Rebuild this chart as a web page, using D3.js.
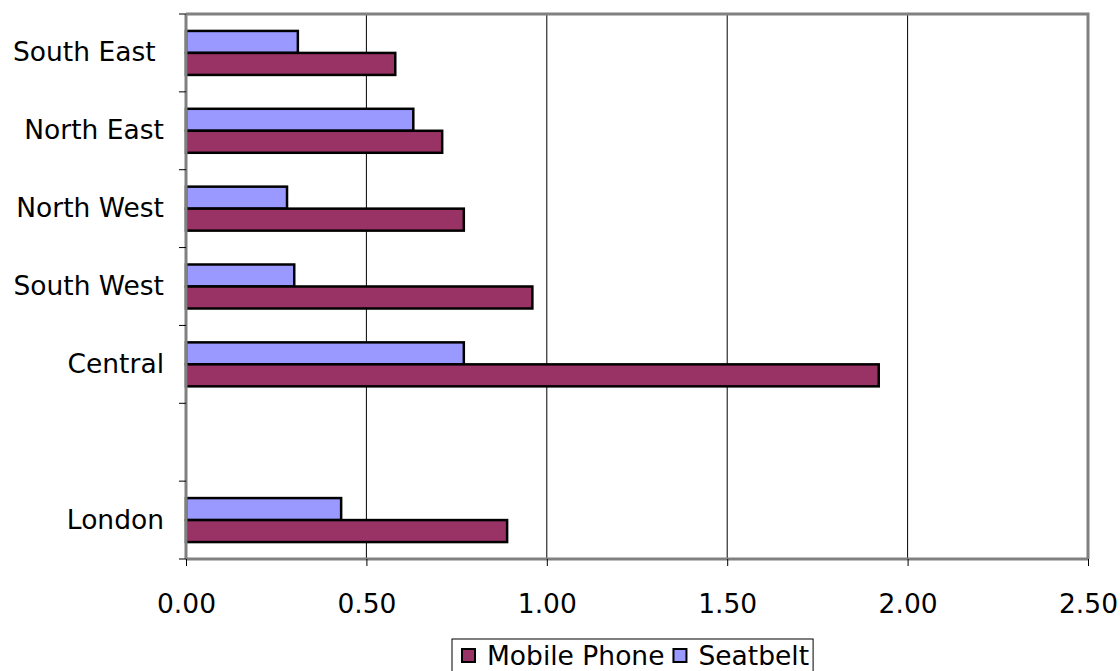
<!DOCTYPE html>
<html>
<head>
<meta charset="utf-8">
<script src="https://cdn.jsdelivr.net/npm/d3@7"></script>
<style>
  html, body { margin: 0; padding: 0; background: #ffffff; }
  svg { display: block; font-family: "DejaVu Sans", Verdana, sans-serif; }
  text { white-space: pre; }
</style>
</head>
<body>
<svg id="chart" width="1120" height="671"></svg>
<script>
// Regions, top to bottom (an empty slot separates London from the rest)
const categories = ["South East ", "North East", "North West", "South West", "Central", "", "London"];
const seriesNames = ["Mobile Phone", "Seatbelt"];
const mobilePhone = [0.58, 0.71, 0.77, 0.96, 1.92, null, 0.89];
const seatbelt    = [0.31, 0.63, 0.28, 0.30, 0.77, null, 0.43];
const xTicks = [0, 0.5, 1.0, 1.5, 2.0, 2.5];
const colors = { "Mobile Phone": "#993366", "Seatbelt": "#9999ff" };

const FONT = 26.5;
const svg = d3.select("#chart");
const plot = { left: 186, right: 1088, top: 14, bottom: 559 };

const x = d3.scaleLinear().domain([0, 2.5]).range([plot.left, plot.right]);
const y = d3.scaleBand().domain(categories).range([plot.top, plot.bottom]).padding(0);
// Within each region: Seatbelt above, Mobile Phone below
const inner = d3.scaleBand().domain(["Seatbelt", "Mobile Phone"])
  .range([0, y.bandwidth()]).paddingInner(0).paddingOuter(0.77);

// Vertical gridlines
svg.append("g").selectAll("line").data(xTicks.slice(1, -1)).join("line")
  .attr("x1", d => x(d)).attr("x2", d => x(d))
  .attr("y1", plot.top).attr("y2", plot.bottom)
  .attr("stroke", "#000").attr("stroke-width", 1);

// Plot frame (top and right)
svg.append("path")
  .attr("d", `M${plot.left},${plot.top}H${plot.right}V${plot.bottom}`)
  .attr("fill", "none").attr("stroke", "#808080").attr("stroke-width", 3);

// Bars
const rows = categories.map((c, i) => ({ c, values: { "Mobile Phone": mobilePhone[i], "Seatbelt": seatbelt[i] } }))
  .filter(r => r.c !== "");
const groups = svg.append("g").selectAll("g").data(rows).join("g")
  .attr("transform", d => `translate(0,${y(d.c)})`);
groups.selectAll("rect")
  .data(d => ["Seatbelt", "Mobile Phone"].map(s => ({ s, v: d.values[s] })))
  .join("rect")
  .attr("x", x(0))
  .attr("y", d => inner(d.s))
  .attr("width", d => x(d.v) - x(0))
  .attr("height", inner.bandwidth())
  .attr("fill", d => colors[d.s])
  .attr("stroke", "#000").attr("stroke-width", 2.5);

// Y axis: line, tick marks on band boundaries, labels at band centres
const yBounds = categories.map(c => y(c)).concat([plot.bottom]);
svg.append("line").attr("x1", plot.left).attr("x2", plot.left)
  .attr("y1", plot.top).attr("y2", plot.bottom)
  .attr("stroke", "#808080").attr("stroke-width", 3);
svg.append("g").selectAll("line").data(yBounds).join("line")
  .attr("x1", plot.left - 7).attr("x2", plot.left)
  .attr("y1", d => d).attr("y2", d => d)
  .attr("stroke", "#000").attr("stroke-width", 1);
const yAxis = d3.axisLeft(y).tickSize(0).tickPadding(22);
const yg = svg.append("g").attr("transform", `translate(${plot.left},0)`).call(yAxis);
yg.select(".domain").remove();
yg.selectAll("text").attr("font-size", FONT).attr("fill", "#000")
  .attr("font-family", "'DejaVu Sans', Verdana, sans-serif");

// X axis
svg.append("line").attr("x1", plot.left).attr("x2", plot.right)
  .attr("y1", plot.bottom).attr("y2", plot.bottom)
  .attr("stroke", "#808080").attr("stroke-width", 3);
const xAxis = d3.axisBottom(x).tickValues(xTicks).tickFormat(d3.format(".2f"))
  .tickSize(7).tickPadding(28);
const xg = svg.append("g").attr("transform", `translate(0,${plot.bottom})`).call(xAxis);
xg.select(".domain").remove();
xg.selectAll(".tick line").attr("stroke", "#000");
xg.selectAll("text").attr("font-size", FONT).attr("fill", "#000")
  .attr("font-family", "'DejaVu Sans', Verdana, sans-serif");

// Legend
const legend = svg.append("g");
const lx = 452, ly = 639;
const items = legend.selectAll("g").data(seriesNames).join("g");
let cursor = lx + 10;
const itemPos = [];
seriesNames.forEach(name => {
  itemPos.push(cursor);
  const t = legend.append("text").text(name).attr("font-size", FONT).attr("visibility", "hidden");
  const w = t.node().getComputedTextLength();
  t.remove();
  cursor += 25 + w + 9;
});
items.attr("transform", (d, i) => `translate(${itemPos[i]},${ly + 17})`);
items.append("rect").attr("x", 0).attr("y", -7).attr("width", 13).attr("height", 13)
  .attr("fill", d => colors[d]).attr("stroke", "#000").attr("stroke-width", 2);
items.append("text").attr("x", 25).attr("y", 0).attr("dy", "0.35em")
  .attr("font-size", FONT).attr("fill", "#000").text(d => d);
legend.insert("rect", ":first-child")
  .attr("x", lx).attr("y", ly).attr("width", cursor - lx - 5).attr("height", 40)
  .attr("fill", "#fff").attr("stroke", "#000").attr("stroke-width", 1);
</script>
</body>
</html>
